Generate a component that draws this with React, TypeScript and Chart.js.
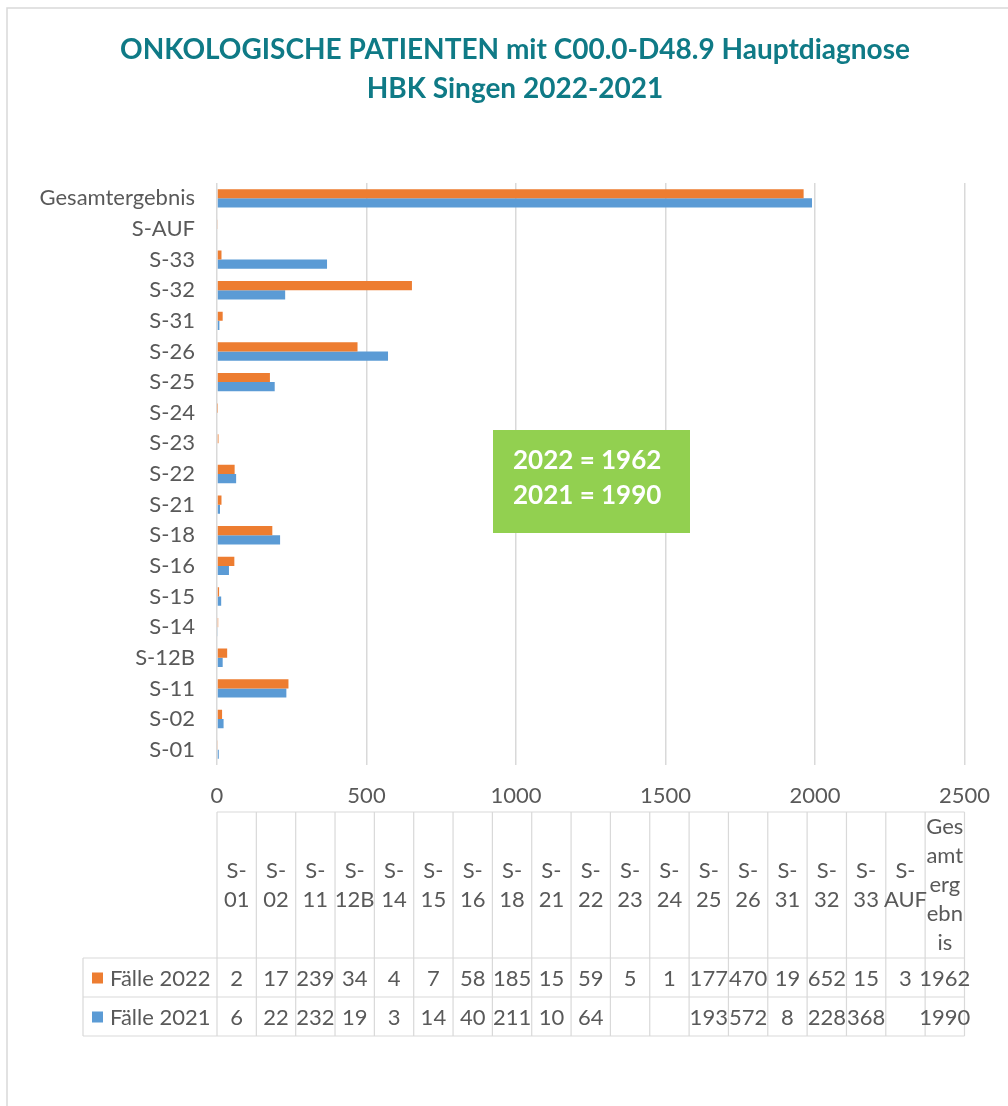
import React, { useEffect, useRef } from 'react';
import { Chart, registerables } from 'chart.js';

Chart.register(...registerables);

// ---- data ----
const categories = ['S-01', 'S-02', 'S-11', 'S-12B', 'S-14', 'S-15', 'S-16', 'S-18', 'S-21', 'S-22', 'S-23', 'S-24', 'S-25', 'S-26', 'S-31', 'S-32', 'S-33', 'S-AUF', 'Gesamtergebnis'];
const faelle2022: (number | null)[] = [2, 17, 239, 34, 4, 7, 58, 185, 15, 59, 5, 1, 177, 470, 19, 652, 15, 3, 1962];
const faelle2021: (number | null)[] = [6, 22, 232, 19, 3, 14, 40, 211, 10, 64, null, null, 193, 572, 8, 228, 368, null, 1990];
const seriesNames = ['Fälle 2022', 'Fälle 2021'];
const xTicks = [0, 500, 1000, 1500, 2000, 2500];
const titleLines = ['ONKOLOGISCHE PATIENTEN mit C00.0-D48.9 Hauptdiagnose', 'HBK Singen 2022-2021'];
const noteLines = ['2022 = 1962', '2021 = 1990'];

// ---- style ----
const W = 1008;
const H = 1106;
const FONT = "Lato, 'Open Sans', sans-serif";
const ORANGE = '#ED7D31';
const BLUE = '#5B9BD5';
const GRID = '#D9D9D9';
const TEXT = '#595959';
const TEAL = '#0F7A86';

function wrapLabel(ctx: CanvasRenderingContext2D, label: string, maxW: number): string[] {
  const tokens: string[] = [];
  let cur = '';
  for (const ch of label) {
    cur += ch;
    if (ch === '-') { tokens.push(cur); cur = ''; }
  }
  if (cur) tokens.push(cur);
  const lines: string[] = [];
  for (const t of tokens) {
    if (t.length <= 3 || ctx.measureText(t).width <= maxW) { lines.push(t); continue; }
    let line = '';
    for (const ch of t) {
      if (line && ctx.measureText(line + ch).width > maxW) { lines.push(line); line = ch; }
      else line += ch;
    }
    if (line) lines.push(line);
  }
  return lines;
}

const decorPlugin = {
  id: 'decor',
  beforeDraw(chart: any) {
    const ctx = chart.ctx as CanvasRenderingContext2D;
    ctx.save();
    ctx.fillStyle = '#fff';
    ctx.fillRect(0, 0, W, H);
    ctx.restore();
  },
  afterDraw(chart: any) {
    const ctx = chart.ctx as CanvasRenderingContext2D;
    const area = chart.chartArea;
    ctx.save();
    // frame
    ctx.strokeStyle = GRID;
    ctx.lineWidth = 1.5;
    ctx.beginPath();
    ctx.moveTo(7, H);
    ctx.lineTo(7, 8);
    ctx.lineTo(W, 8);
    ctx.stroke();

    // title
    ctx.fillStyle = TEAL;
    ctx.font = `bold 28px ${FONT}`;
    ctx.textAlign = 'center';
    ctx.textBaseline = 'middle';
    ctx.fillText(titleLines[0], 515, 50);
    ctx.fillText(titleLines[1], 515, 89);

    // green note box
    ctx.fillStyle = '#92D050';
    ctx.fillRect(493, 430, 197, 103);
    ctx.fillStyle = '#fff';
    ctx.font = `bold 26px ${FONT}`;
    ctx.textAlign = 'left';
    ctx.fillText(noteLines[0], 513, 461);
    ctx.fillText(noteLines[1], 513, 496);

    // data table
    const n = categories.length;
    const left = area.left;
    const right = area.right;
    const colW = (right - left) / n;
    const top = 812, hdrBottom = 958, r1 = 997, r2 = 1036, legLeft = 83;
    ctx.strokeStyle = GRID;
    ctx.lineWidth = 1.2;
    ctx.beginPath();
    ctx.moveTo(left, top); ctx.lineTo(right, top);
    for (const y of [hdrBottom, r1, r2]) { ctx.moveTo(legLeft, y); ctx.lineTo(right, y); }
    for (let i = 0; i <= n; i++) {
      const x = left + i * colW;
      ctx.moveTo(x, top); ctx.lineTo(x, r2);
    }
    ctx.moveTo(legLeft, hdrBottom); ctx.lineTo(legLeft, r2);
    ctx.stroke();

    ctx.font = `22px ${FONT}`;
    ctx.fillStyle = TEXT;
    ctx.textAlign = 'center';
    ctx.textBaseline = 'middle';
    const lh = 29;
    categories.forEach((c, i) => {
      const cx = left + (i + 0.5) * colW;
      const lines = wrapLabel(ctx, c, colW);
      const cy = (top + hdrBottom) / 2 - ((lines.length - 1) * lh) / 2;
      lines.forEach((l, k) => ctx.fillText(l, cx, cy + k * lh));
    });
    const rows = [faelle2022, faelle2021];
    const rowC = [(hdrBottom + r1) / 2, (r1 + r2) / 2];
    const colors = [ORANGE, BLUE];
    rows.forEach((vals, ri) => {
      ctx.textAlign = 'center';
      ctx.fillStyle = TEXT;
      vals.forEach((v, i) => {
        if (v === null) return;
        ctx.fillText(String(v), left + (i + 0.5) * colW, rowC[ri] + 1);
      });
      ctx.fillStyle = colors[ri];
      ctx.fillRect(92, rowC[ri] - 5, 11, 11);
      ctx.fillStyle = TEXT;
      ctx.textAlign = 'left';
      ctx.fillText(seriesNames[ri], 110, rowC[ri] + 1);
    });
    ctx.restore();
  },
};

export default function App() {
  const ref = useRef<HTMLCanvasElement>(null);
  useEffect(() => {
    document.body.style.margin = '0';
    const chart = new Chart(ref.current!, {
      type: 'bar',
      data: {
        labels: categories,
        datasets: [
          { label: seriesNames[0], data: faelle2022, backgroundColor: ORANGE, categoryPercentage: 0.6, barPercentage: 1 },
          { label: seriesNames[1], data: faelle2021, backgroundColor: BLUE, categoryPercentage: 0.6, barPercentage: 1 },
        ],
      },
      options: {
        indexAxis: 'y',
        animation: false,
        responsive: false,
        devicePixelRatio: 1,
        layout: { padding: { top: 183, right: 41, left: 0, bottom: 0 } },
        plugins: { legend: { display: false }, tooltip: { enabled: false }, title: { display: false } },
        scales: {
          x: {
            min: 0,
            max: 2500,
            afterBuildTicks: (s: any) => { s.ticks = xTicks.map((v) => ({ value: v })); },
            afterFit: (s: any) => { s.height = H - 765; },
            grid: { color: GRID, lineWidth: 1.5, drawTicks: false },
            border: { display: false },
            ticks: { color: TEXT, font: { family: FONT, size: 22 }, padding: 18, callback: (v: any) => String(v) },
          },
          y: {
            reverse: true,
            afterFit: (s: any) => { s.width = 217; },
            grid: { display: false, drawTicks: false },
            border: { display: false },
            ticks: { color: TEXT, font: { family: FONT, size: 22 }, padding: 22, autoSkip: false },
          },
        },
      },
      plugins: [decorPlugin],
    } as any);
    return () => chart.destroy();
  }, []);
  return (
    <div style={{ position: 'relative', width: W, height: H }}>
      <canvas ref={ref} width={W} height={H} style={{ display: 'block', width: W, height: H }} />
    </div>
  );
}
